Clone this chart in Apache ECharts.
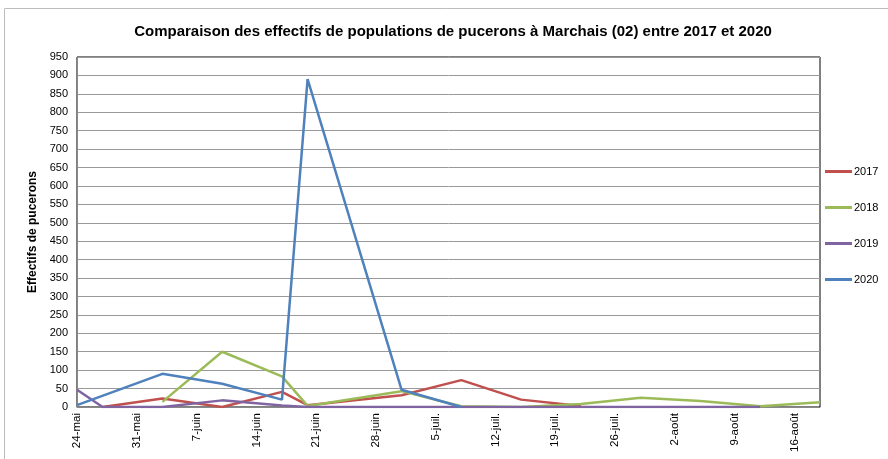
<!DOCTYPE html>
<html>
<head>
<meta charset="utf-8">
<script src="https://cdn.jsdelivr.net/npm/echarts@6/dist/echarts.min.js"></script>
<style>
  html, body { margin: 0; padding: 0; background: #fff; }
  #main { width: 888px; height: 459px; }
</style>
</head>
<body>
<div id="main"></div>
<script>
// jours depuis le 24-mai
var days = [0, 3, 10, 17, 24, 27, 38, 45, 52, 59, 66, 73, 80, 87];
var v2017 = [null, 0, 23, 0, 41, 5, 32, 73, 20, 3, null, null, null, null];
var v2018 = [null, null, 14, 150, 83, 3, 43, 2, 0, 8, 25, 16, 2, 13];
var v2019 = [47, 0, 0, 18, 4, 0, 0, 0, 0, 0, 0, 0, 0, null];
var v2020 = [5, null, 90, 63, 20, 890, 47, 0, null, null, null, null, null, null];
var tickLabels = ['24-mai', '31-mai', '7-juin', '14-juin', '21-juin', '28-juin', '5-juil.',
  '12-juil.', '19-juil.', '26-juil.', '2-août', '9-août', '16-août'];
var yTicks = [0, 950, 50];

function pairs(vals) {
  var out = [];
  days.forEach(function (d, i) {
    if (vals[i] != null) out.push([d, vals[i]]);
  });
  return out;
}

function line(name, vals, color) {
  return {
    name: name,
    type: 'line',
    data: pairs(vals),
    symbol: 'none',
    lineStyle: { color: color, width: 2.5 },
    itemStyle: { color: color }
  };
}

var chart = echarts.init(document.getElementById('main'));
var option = {
  animation: false,
  backgroundColor: '#fff',
  textStyle: { fontFamily: 'Liberation Sans' },
  title: {
    text: 'Comparaison des effectifs de populations de pucerons à Marchais (02) entre 2017 et 2020',
    left: 448,
    top: 19,
    textAlign: 'center',
    textStyle: { fontSize: 15, fontWeight: 'bold', color: '#000', fontFamily: 'Liberation Sans' }
  },
  grid: {
    left: 77, right: 68, top: 57, bottom: 52,
    show: true, borderColor: '#000', borderWidth: 1
  },
  legend: {
    orient: 'vertical',
    left: 820,
    top: 160,
    itemWidth: 27,
    itemHeight: 3,
    itemGap: 23,
    icon: 'rect',
    textStyle: { fontSize: 11, color: '#000', padding: [0, 0, 0, -3], lineHeight: 13 },
    data: ['2017', '2018', '2019', '2020']
  },
  xAxis: {
    type: 'value',
    min: 0,
    max: 87,
    interval: 7,
    axisLine: { show: true, lineStyle: { color: '#888' } },
    axisTick: { show: false },
    splitLine: { show: false },
    axisLabel: {
      rotate: 90,
      fontSize: 11.5,
      color: '#000',
      margin: 6,
      showMaxLabel: false,
      formatter: function (v) {
        var k = v / 7;
        return Number.isInteger(k) && tickLabels[k] ? tickLabels[k] : '';
      }
    }
  },
  yAxis: {
    type: 'value',
    min: yTicks[0],
    max: yTicks[1],
    interval: yTicks[2],
    name: 'Effectifs de pucerons',
    nameLocation: 'middle',
    nameRotate: 90,
    nameGap: 38,
    nameTextStyle: { fontSize: 12, fontWeight: 'bold', color: '#000' },
    axisLine: { show: true, lineStyle: { color: '#888' } },
    axisTick: { show: false },
    axisLabel: { fontSize: 11, color: '#000', margin: 9 },
    splitLine: { lineStyle: { color: '#999', width: 1 } }
  },
  graphic: [{
    type: 'rect',
    shape: { x: 4.5, y: 8.5, width: 890, height: 460 },
    style: { fill: 'none', stroke: '#bdbdbd', lineWidth: 1 },
    silent: true
  }],
  series: [
    line('2017', v2017, '#C0504D'),
    line('2018', v2018, '#9BBB59'),
    line('2019', v2019, '#8064A2'),
    line('2020', v2020, '#4F81BD')
  ]
};
chart.setOption(option);
</script>
</body>
</html>
